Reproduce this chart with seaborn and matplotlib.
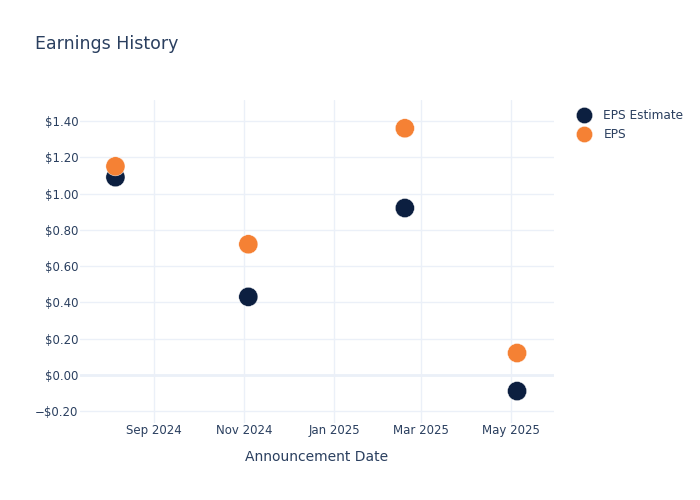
import pandas as pd
import numpy as np
import matplotlib
matplotlib.use('Agg')
import matplotlib.pyplot as plt
import matplotlib.dates as mdates
from matplotlib.ticker import FuncFormatter
import seaborn as sns

# ── Data ────────────────────────────────────────────────────────────────────
dates = pd.to_datetime(['2024-08-06', '2024-11-04', '2025-02-18', '2025-05-05'])
eps_estimate = [1.09, 0.43, 0.92, -0.09]
eps_actual = [1.15, 0.72, 1.36, 0.12]
series_names = ['EPS Estimate', 'EPS']
series_colors = ['#0c1f40', '#f58134']
y_ticks = [-0.2, 0.0, 0.2, 0.4, 0.6, 0.8, 1.0, 1.2, 1.4]
x_ticks = pd.to_datetime(['2024-09-01', '2024-11-01', '2025-01-01', '2025-03-01', '2025-05-01'])

df = pd.DataFrame({
    'date': list(dates) * 2,
    'value': eps_estimate + eps_actual,
    'series': [series_names[0]] * 4 + [series_names[1]] * 4,
})

# ── Plot ────────────────────────────────────────────────────────────────────
sns.set_style('white')
plt.rcParams['font.family'] = ['DejaVu Sans']
text_color = '#2a3f5f'
grid_color = '#ebf0f8'

fig = plt.figure(figsize=(7, 5), dpi=100)
ax = fig.add_axes([80/700, 1 - 423/500, (554 - 80)/700, (423 - 100)/500])

sns.scatterplot(data=df, x='date', y='value', hue='series',
                palette=dict(zip(series_names, series_colors)),
                s=190, edgecolor='white', linewidth=0.3, ax=ax, zorder=3)

ax.set_xlim(pd.Timestamp('2024-07-13'), pd.Timestamp('2025-05-30'))
ax.set_ylim(-0.266, 1.516)
ax.set_xticks(x_ticks)
ax.xaxis.set_major_formatter(mdates.DateFormatter('%b %Y'))
ax.set_yticks(y_ticks)
ax.yaxis.set_major_formatter(FuncFormatter(
    lambda v, p: ('\u2212$%.2f' % abs(v)) if v < -1e-9 else '$%.2f' % abs(v)))

ax.grid(True, color=grid_color, linewidth=1)
ax.axhline(0, color=grid_color, linewidth=2, zorder=1)
for s in ax.spines.values():
    s.set_visible(False)
ax.tick_params(axis='both', length=0, labelsize=8.5, colors=text_color)
ax.tick_params(axis='x', pad=1)
ax.tick_params(axis='y', pad=1)
ax.set_xlabel('Announcement Date', fontsize=10, color=text_color, labelpad=9)
ax.set_ylabel('')

fig.text(35/700, 1 - 44/500, 'Earnings History', fontsize=12.5,
         color=text_color, va='center')

leg = ax.legend(loc='upper left', bbox_to_anchor=(1.015, 1.005), frameon=False,
                fontsize=8.7, handletextpad=0.6, labelspacing=0.5,
                markerscale=0.85)
for t in leg.get_texts():
    t.set_color(text_color)

fig.savefig('out.png', dpi=100)
